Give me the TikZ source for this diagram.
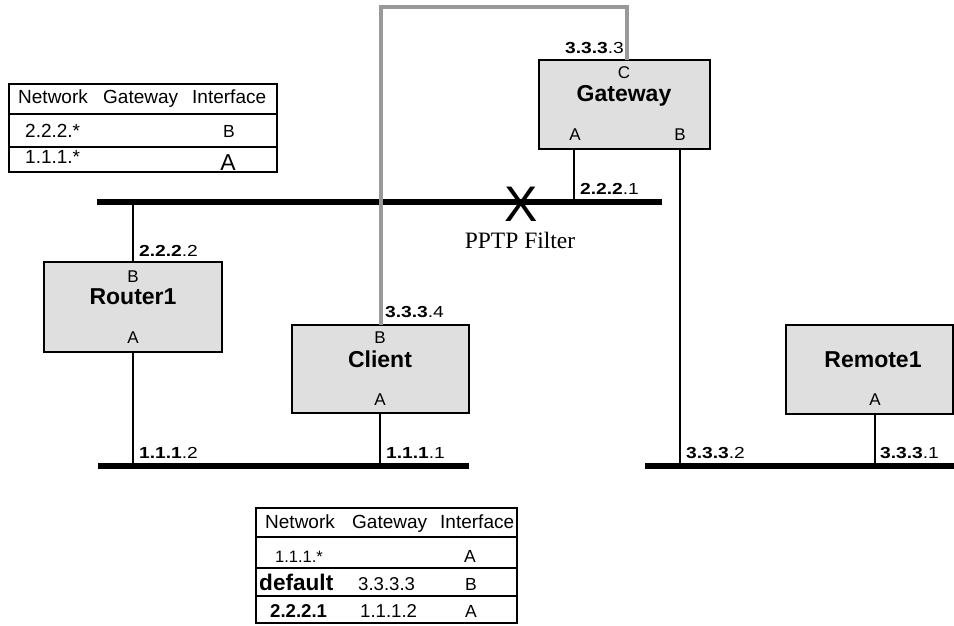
\documentclass[tikz,border=0pt]{standalone}
\usepackage{fontspec}
\setmainfont{Liberation Sans}
\newfontfamily\ipfont{Liberation Sans}[FakeStretch=1.2]
\newfontfamily\seriffont{Liberation Serif}
\newcommand{\fs}[1]{\fontsize{#1}{#1}\selectfont}
\newcommand{\ipl}[2]{{\ipfont\fs{16}\textbf{#1}.#2}}
\begin{document}
\begin{tikzpicture}[x=1pt,y=-1pt,
  dev/.style={draw=black, line width=2pt, fill=gray!25, inner sep=0pt},
  tblbox/.style={draw=black, line width=2pt, inner sep=0pt},
  bus/.style={line width=5.5pt},
  wire/.style={line width=1.3pt},
  tunnel/.style={line width=3.7pt, draw=gray!80},
  tbl/.style={line width=2pt},
  txt/.style={inner sep=0pt, anchor=base},
  ltxt/.style={inner sep=0pt, anchor=base west},
  rtxt/.style={inner sep=0pt, anchor=base east},
  title/.style={txt, font=\fs{23}\bfseries},
  port/.style={txt, font=\fs{17}},
  hdr/.style={ltxt, font=\fs{19}},
]
\useasboundingbox (0,0) rectangle (954,626);

% buses
\coordinate (b1w) at (97,202);  \coordinate (b1e) at (662,202);
\coordinate (b2w) at (98,466);  \coordinate (b2e) at (469,466);
\coordinate (b3w) at (645,466); \coordinate (b3e) at (954,466);
\draw[bus] (b1w) -- (b1e);
\draw[bus] (b2w) -- (b2e);
\draw[bus] (b3w) -- (b3e);

% devices
\node[dev, minimum width=171pt, minimum height=89pt] (gw) at (624.5,104.5) {};
\node[dev, minimum width=178pt, minimum height=90pt] (rt) at (133,307) {};
\node[dev, minimum width=177pt, minimum height=88pt] (cl) at (380.5,369) {};
\node[dev, minimum width=167pt, minimum height=89pt] (rm) at (869.5,369.5) {};

% ports
\coordinate (gwA) at (574,149);
\coordinate (gwB) at (680,149);
\coordinate (gwC) at (627,60);
\coordinate (clB) at (381,325);
\coordinate (clA) at (380,413);
\coordinate (rmA) at (875,414);

% wires
\draw[wire] (rt.north) -- (rt.north |- b1w);
\draw[wire] (rt.south) -- (rt.south |- b2w);
\draw[wire] (clA) -- (clA |- b2w);
\draw[wire] (gwA) -- (gwA |- b1w);
\draw[wire] (gwB) -- (gwB |- b3w);
\draw[wire] (rmA) -- (rmA |- b3w);

% tunnel
\coordinate (tl) at (381,7);
\coordinate (tr) at (627,7);
\draw[tunnel] (clB) -- (tl) -- (tr) -- (gwC);

% device texts
\node[port] (gwCt) at (624,78) {C};
\node[title] (gwT) at (624,102) {Gateway};
\node[port] (gwAt) at (575,140) {A};
\node[port] (gwBt) at (680,140) {B};

\node[port] (rtBt) at (133,282) {B};
\node[title] (rtT) at (133,304) {Router1};
\node[port] (rtAt) at (133,343) {A};

\node[port] (clBt) at (380,343) {B};
\node[title] (clT) at (380,367) {Client};
\node[port] (clAt) at (380,405) {A};

\node[title] (rmT) at (873,367) {Remote1};
\node[port] (rmAt) at (875,405) {A};

% address labels
\node[rtxt] (ip3) at (624,54) {\ipl{3.3.3}{3}};
\node[ltxt] (ip21) at (580,194) {\ipl{2.2.2}{1}};
\node[ltxt] (ip22) at (139,256) {\ipl{2.2.2}{2}};
\node[ltxt] (ip34) at (385,317) {\ipl{3.3.3}{4}};
\node[ltxt] (ip12) at (139,458) {\ipl{1.1.1}{2}};
\node[ltxt] (ip11) at (386,458) {\ipl{1.1.1}{1}};
\node[ltxt] (ip32) at (686,458) {\ipl{3.3.3}{2}};
\node[ltxt] (ip31) at (880,458) {\ipl{3.3.3}{1}};

% filter
\node[txt, font=\fs{50}] (x) at (521,221) {X};
\node[txt, font=\seriffont\fs{23.5}] (pptp) at (520,248) {PPTP Filter};

% top table
\node[tblbox, minimum width=268pt, minimum height=88pt] (t1) at (143,128) {};
\draw[tbl] (t1.west |- 0,114) -- (t1.east |- 0,114);
\draw[tbl] (t1.west |- 0,147) -- (t1.east |- 0,147);
\node[hdr] (t1h1) at (18,103) {Network};
\node[hdr] (t1h2) at (103,103) {Gateway};
\node[hdr] (t1h3) at (192,103) {Interface};
\node[ltxt, font=\fs{19}] (t1r1) at (25,138) {2.2.2.*};
\node[txt, font=\fs{17.5}] (t1r1i) at (229,138) {B};
\node[ltxt, font=\fs{19}] (t1r2) at (25,163) {1.1.1.*};
\node[txt, font=\fs{23}] (t1r2i) at (228,170) {A};

% bottom table
\node[tblbox, minimum width=261pt, minimum height=115pt] (t2) at (386.5,565.5) {};
\draw[tbl] (t2.west |- 0,537) -- (t2.east |- 0,537);
\draw[tbl] (t2.west |- 0,568) -- (t2.east |- 0,568);
\draw[tbl] (t2.west |- 0,596) -- (t2.east |- 0,596);
\node[hdr] (t2h1) at (265,528) {Network};
\node[hdr] (t2h2) at (352,528) {Gateway};
\node[hdr] (t2h3) at (440,528) {Interface};
\node[ltxt, font=\fs{16.5}] (t2r1) at (275,562) {1.1.1.*};
\node[txt, font=\fs{17.5}] (t2r1i) at (470,562) {A};
\node[ltxt, font=\fs{22.6}\bfseries] (t2r2) at (259,590) {default};
\node[ltxt, font=\fs{18.6}] (t2r2g) at (358,590) {3.3.3.3};
\node[txt, font=\fs{17.5}] (t2r2i) at (471,590) {B};
\node[ltxt, font=\fs{18.6}\bfseries] (t2r3) at (270,617) {2.2.2.1};
\node[ltxt, font=\fs{18.6}] (t2r3g) at (360,617) {1.1.1.2};
\node[txt, font=\fs{17.5}] (t2r3i) at (471,617) {A};
\end{tikzpicture}
\end{document}
